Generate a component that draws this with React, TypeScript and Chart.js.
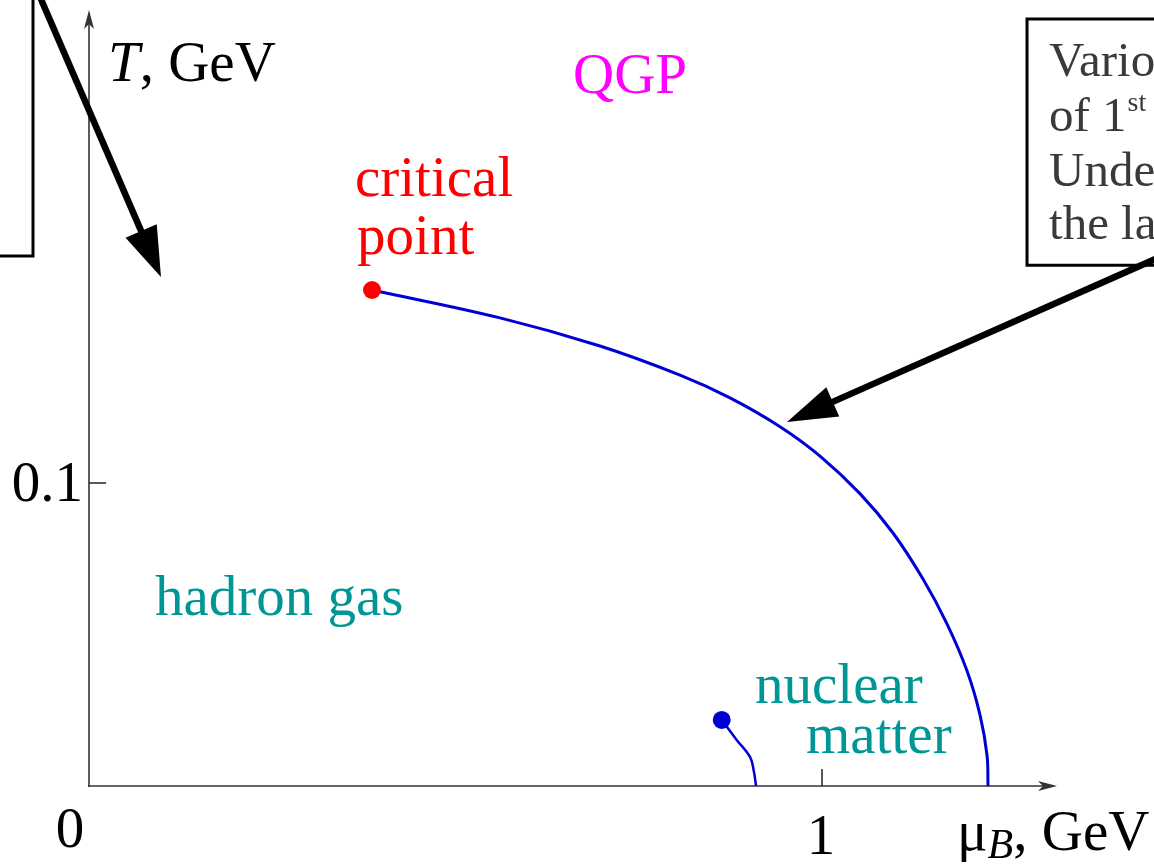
import React, { useEffect, useRef } from "react";
import { Chart, registerables } from "chart.js";

Chart.register(...registerables);

// Phase-transition line (mu_B in GeV, T in GeV)
const transitionMu = [0.3861, 0.5607, 0.6971, 0.8063, 0.8745, 0.9427, 0.9973, 1.0518, 1.0969, 1.1378, 1.1705, 1.1978, 1.2156, 1.2251, 1.2265];
const transitionT = [0.1637, 0.1545, 0.1452, 0.1356, 0.1281, 0.1186, 0.1089, 0.0965, 0.0835, 0.0683, 0.0535, 0.038, 0.0234, 0.0102, 0.0];
// Critical point
const criticalMu = [0.3861];
const criticalT = [0.1637];
// Nuclear matter liquid-gas line
const nuclearMu = [0.8632, 0.8836, 0.9018, 0.9072, 0.91];
const nuclearT = [0.0218, 0.0152, 0.0096, 0.0046, 0.0];
const nuclearEndMu = [0.8632];
const nuclearEndT = [0.0218];
// Ticks
const xTicks = [0, 1];
const xTickLabels = ["0", "1"];
const yTicks = [0.1];
const yTickLabels = ["0.1"];
// Annotation box text
const boxLines = ["Various", "of 1", "Under", "the last"];

const SERIF = '"Liberation Serif", "DejaVu Serif", serif';
const TEAL = "#009696";
const BLUE = "#0000d4";

const X_MIN = -0.12142;
const X_MAX = 1.45293;
const Y_MIN = -0.026403;
const Y_MAX = 0.25941;

export default function App() {
  const ref = useRef<HTMLCanvasElement | null>(null);

  useEffect(() => {
    if (!ref.current) return;

    const overlay = {
      id: "overlay",
      beforeDatasetsDraw(chart: any) {
        const ctx = chart.ctx as CanvasRenderingContext2D;
        const xs = chart.scales.x;
        const ys = chart.scales.y;
        const px = (v: number) => xs.getPixelForValue(v);
        const py = (v: number) => ys.getPixelForValue(v);
        const x0 = px(0);
        const y0 = py(0);
        ctx.save();
        ctx.strokeStyle = "#333";
        ctx.fillStyle = "#333";
        ctx.lineWidth = 1.6;
        // y axis
        const yTop = py(Y_MAX) + 10;
        ctx.beginPath();
        ctx.moveTo(x0, y0 + 1);
        ctx.lineTo(x0, yTop + 6);
        ctx.stroke();
        ctx.beginPath();
        ctx.moveTo(x0, yTop);
        ctx.lineTo(x0 - 5, yTop + 19);
        ctx.lineTo(x0, yTop + 14);
        ctx.lineTo(x0 + 5, yTop + 19);
        ctx.closePath();
        ctx.fill();
        // x axis
        const xRight = px(1) + 235;
        ctx.beginPath();
        ctx.moveTo(x0 - 1, y0);
        ctx.lineTo(xRight - 6, y0);
        ctx.stroke();
        ctx.beginPath();
        ctx.moveTo(xRight, y0);
        ctx.lineTo(xRight - 19, y0 - 5);
        ctx.lineTo(xRight - 14, y0);
        ctx.lineTo(xRight - 19, y0 + 5);
        ctx.closePath();
        ctx.fill();
        // ticks
        ctx.lineWidth = 1.5;
        ctx.strokeStyle = "#222";
        xTicks.forEach((t) => {
          if (t === 0) return;
          ctx.beginPath();
          ctx.moveTo(px(t), y0);
          ctx.lineTo(px(t), y0 - 17);
          ctx.stroke();
        });
        yTicks.forEach((t) => {
          ctx.beginPath();
          ctx.moveTo(x0, py(t));
          ctx.lineTo(x0 + 17, py(t));
          ctx.stroke();
        });
        ctx.restore();
      },
      afterDatasetsDraw(chart: any) {
        const ctx = chart.ctx as CanvasRenderingContext2D;
        const xs = chart.scales.x;
        const ys = chart.scales.y;
        const px = (v: number) => xs.getPixelForValue(v);
        const py = (v: number) => ys.getPixelForValue(v);
        const x0 = px(0);
        const y0 = py(0);
        const font = (size: number, italic = false) => `${italic ? "italic " : ""}${size}px ${SERIF}`;
        ctx.save();
        ctx.textBaseline = "alphabetic";

        // tick labels
        ctx.fillStyle = "#000";
        ctx.font = font(57);
        xTicks.forEach((t, i) => {
          ctx.textAlign = "center";
          if (t === 0) ctx.fillText(xTickLabels[i], x0 - 19, y0 + 61);
          else ctx.fillText(xTickLabels[i], px(t) - 1, y0 + 68);
        });
        yTicks.forEach((t, i) => {
          ctx.textAlign = "right";
          ctx.fillText(yTickLabels[i], x0 - 6, py(t) + 18);
        });

        // axis titles
        ctx.textAlign = "left";
        let cx = px(0.0259);
        let by = py(0.2327);
        ctx.font = font(57, true);
        ctx.fillText("T", cx, by);
        cx += ctx.measureText("T").width;
        ctx.font = font(57);
        ctx.fillText(", GeV", cx, by);

        cx = px(1) + 135;
        by = y0 + 64;
        ctx.font = font(57);
        ctx.fillText("\u03bc", cx, by);
        cx += ctx.measureText("\u03bc").width;
        ctx.font = font(42, true);
        ctx.fillText("B", cx, by + 8);
        cx += ctx.measureText("B").width;
        ctx.font = font(57);
        ctx.fillText(", GeV", cx, by);

        // region labels
        ctx.font = font(57);
        ctx.fillStyle = "#ff00ff";
        ctx.fillText("QGP", px(0.6603), py(0.2287));
        ctx.fillStyle = "#ff0000";
        ctx.fillText("critical", px(0.3629), py(0.1947));
        ctx.fillText("point", px(0.3657), py(0.1755));
        ctx.fillStyle = TEAL;
        ctx.fillText("hadron gas", px(0.09), py(0.0564));
        ctx.fillText("nuclear", px(0.9086), py(0.0274));
        ctx.fillText("matter", px(0.9782), py(0.0109));

        // annotation boxes
        ctx.strokeStyle = "#000";
        ctx.lineWidth = 3;
        ctx.beginPath();
        ctx.moveTo(px(-0.0764), py(Y_MAX) - 5);
        ctx.lineTo(px(-0.0764), py(0.1749));
        ctx.lineTo(px(X_MIN) - 5, py(0.1749));
        ctx.stroke();
        ctx.beginPath();
        ctx.moveTo(px(X_MAX) + 5, py(0.2531));
        ctx.lineTo(px(1.2797), py(0.2531));
        ctx.lineTo(px(1.2797), py(0.1719));
        ctx.lineTo(px(X_MAX) + 5, py(0.1719));
        ctx.stroke();

        // box text
        ctx.fillStyle = "#3a3a3a";
        const bx = px(1.3097);
        const baselines = [0.2343, 0.2162, 0.198, 0.1805];
        boxLines.forEach((s, i) => {
          ctx.font = font(49);
          ctx.fillText(s, bx, py(baselines[i]));
          if (i === 1) {
            const w = ctx.measureText(s).width;
            ctx.font = font(28);
            ctx.fillText("st", bx + w + 1, py(baselines[i]) - 20);
          }
        });

        // arrows
        const arrow = (sx: number, sy: number, tx: number, ty: number, len: number, half: number) => {
          const ang = Math.atan2(ty - sy, tx - sx);
          const bxp = tx - len * Math.cos(ang);
          const byp = ty - len * Math.sin(ang);
          ctx.strokeStyle = "#000";
          ctx.fillStyle = "#000";
          ctx.lineWidth = 6.5;
          ctx.lineCap = "butt";
          ctx.beginPath();
          ctx.moveTo(sx, sy);
          ctx.lineTo(bxp + 5 * Math.cos(ang), byp + 5 * Math.sin(ang));
          ctx.stroke();
          ctx.beginPath();
          ctx.moveTo(tx, ty);
          ctx.lineTo(bxp - half * Math.sin(ang), byp + half * Math.cos(ang));
          ctx.lineTo(bxp + half * Math.sin(ang), byp - half * Math.cos(ang));
          ctx.closePath();
          ctx.fill();
        };
        arrow(px(-0.0709), py(0.2627), px(0.0982), py(0.168), 50, 17);
        arrow(px(1.4611), py(0.1746), px(0.9523), py(0.1201), 50, 16);

        ctx.restore();
      },
    };

    const chart = new Chart(ref.current, {
      type: "scatter",
      data: {
        datasets: [
          {
            label: "critical point",
            data: criticalMu.map((x, i) => ({ x, y: criticalT[i] })),
            pointRadius: 9,
            pointBackgroundColor: "#ff0000",
            pointBorderColor: "#ff0000",
            pointBorderWidth: 0,
            showLine: false,
            order: 0,
          },
          {
            label: "nuclear endpoint",
            data: nuclearEndMu.map((x, i) => ({ x, y: nuclearEndT[i] })),
            pointRadius: 9,
            pointBackgroundColor: BLUE,
            pointBorderColor: BLUE,
            pointBorderWidth: 0,
            showLine: false,
            order: 0,
          },
          {
            label: "transition",
            data: transitionMu.map((x, i) => ({ x, y: transitionT[i] })),
            showLine: true,
            borderColor: BLUE,
            borderWidth: 3,
            pointRadius: 0,
            tension: 0.4,
            fill: false,
            order: 1,
          },
          {
            label: "nuclear",
            data: nuclearMu.map((x, i) => ({ x, y: nuclearT[i] })),
            showLine: true,
            borderColor: BLUE,
            borderWidth: 2.5,
            pointRadius: 0,
            tension: 0.4,
            fill: false,
            order: 1,
          },
        ],
      },
      options: {
        responsive: false,
        animation: false,
        events: [],
        layout: { padding: 0, autoPadding: false },
        plugins: { legend: { display: false }, tooltip: { enabled: false } },
        scales: {
          x: { type: "linear", display: false, min: X_MIN, max: X_MAX },
          y: { type: "linear", display: false, min: Y_MIN, max: Y_MAX },
        },
      },
      plugins: [overlay],
    } as any);

    return () => chart.destroy();
  }, []);

  return (
    <div style={{ position: "absolute", left: 0, top: 0, width: 1154, height: 866, background: "#fff" }}>
      <canvas ref={ref} width={1154} height={866} style={{ display: "block" }} />
    </div>
  );
}
